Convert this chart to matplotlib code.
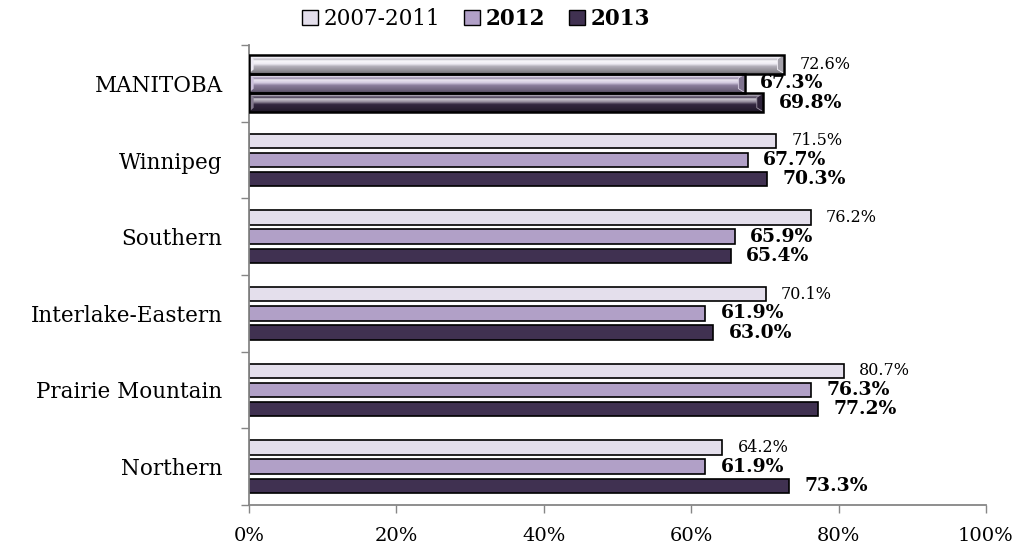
import numpy as np
import matplotlib
matplotlib.use("Agg")
import matplotlib.pyplot as plt
from matplotlib.patches import Patch, Rectangle, Polygon
from matplotlib.colors import to_rgb

plt.rcParams['font.family'] = ['DejaVu Serif']

regions = ["MANITOBA", "Winnipeg", "Southern", "Interlake-Eastern",
           "Prairie Mountain", "Northern"]
series_names = ["2007-2011", "2012", "2013"]
avg_2007_2011 = [72.6, 71.5, 76.2, 70.1, 80.7, 64.2]
val_2012 = [67.3, 67.7, 65.9, 61.9, 76.3, 61.9]
val_2013 = [69.8, 70.3, 65.4, 63.0, 77.2, 73.3]
x_ticks = [0, 20, 40, 60, 80, 100]

colors = ["#E4DFEC", "#B1A0C7", "#403151"]
series = [avg_2007_2011, val_2012, val_2013]

fig = plt.figure(figsize=(10.19, 5.46), dpi=100)
ax = fig.add_axes([249 / 1019, 1 - 505 / 546, 737 / 1019, 460 / 546])

bar_h = 0.19
total_h = 0.245
offsets = [-0.25, 0.0, 0.25]


def mix(c, other, t):
    c = np.array(to_rgb(c))
    o = np.array(to_rgb(other))
    return (1 - t) * c + t * o


def bevel_image(color, n=80):
    # vertical shading for the highlighted provincial total bars
    stops = [
        (0.00, mix(color, "white", 0.55)),
        (0.14, mix(color, "white", 0.55)),
        (0.22, mix(color, "black", 0.18)),
        (0.30, mix(color, "white", 0.75)),
        (0.46, mix(color, "white", 0.45)),
        (0.60, mix(color, "black", 0.22)),
        (0.85, mix(color, "black", 0.38)),
        (1.00, mix(color, "black", 0.55)),
    ]
    t = np.linspace(0, 1, n)
    pos = [s[0] for s in stops]
    img = np.zeros((n, 2, 3))
    for k in range(3):
        ch = np.interp(t, pos, [s[1][k] for s in stops])
        img[:, :, k] = ch[:, None]
    return img


for s_idx, (vals, col) in enumerate(zip(series, colors)):
    for i, v in enumerate(vals):
        y = i + offsets[s_idx]
        if i == 0:
            top, bot = y - total_h / 2, y + total_h / 2
            rect = Rectangle((0, top), v, total_h, facecolor="none",
                             edgecolor="black", linewidth=1.8, zorder=3)
            ax.add_patch(rect)
            im = ax.imshow(bevel_image(col), extent=(0, v, bot, top),
                           origin="upper", aspect="auto", interpolation="bilinear", zorder=2)
            im.set_clip_path(rect)
            # bevelled end faces
            inset = total_h * 0.22
            w = 0.9
            right = Polygon([(v - w, top + inset), (v, top), (v, bot), (v - w, bot - inset)],
                            closed=True, facecolor=mix(col, "black", 0.28),
                            edgecolor=mix(col, "white", 0.5), linewidth=0.6, zorder=2.5)
            left = Polygon([(0, top), (w * 0.7, top + inset), (w * 0.7, bot - inset), (0, bot)],
                           closed=True, facecolor=mix(col, "white", 0.35),
                           edgecolor="none", zorder=2.5)
            for p in (right, left):
                ax.add_patch(p)
                p.set_clip_path(rect)
        else:
            ax.barh(y, v, height=bar_h, color=col, edgecolor="black",
                    linewidth=1.2, zorder=2)
        weight = "normal" if s_idx == 0 else "bold"
        size = 11.5 if s_idx == 0 else 13.5
        ax.annotate(f"{v:.1f}%", xy=(v, y), xytext=(11, 0), textcoords="offset points",
                    ha="left", va="center", fontsize=size, fontweight=weight,
                    color="black", zorder=4)

ax.set_xlim(0, 100)
ax.set_ylim(5.5, -0.5)

ax.set_xticks(x_ticks)
ax.set_xticklabels([f"{t}%" for t in x_ticks], fontsize=14)
ax.set_yticks(np.arange(-0.5, 6.0, 1.0))
ax.set_yticklabels([])
ax.set_yticks(np.arange(len(regions)), minor=True)
ax.set_yticklabels(regions, minor=True, fontsize=15.5)

ax.tick_params(axis="y", which="major", direction="out", length=6, width=1, color="#868686")
ax.tick_params(axis="y", which="minor", length=0, pad=19)
ax.tick_params(axis="x", direction="out", length=6, width=1, color="#868686", pad=10)

for side in ["top", "right"]:
    ax.spines[side].set_visible(False)
for side in ["left", "bottom"]:
    ax.spines[side].set_color("#868686")
    ax.spines[side].set_linewidth(1.3)

handles = [Patch(facecolor=c, edgecolor="black", linewidth=1.0) for c in colors]
leg = fig.legend(handles, series_names, loc="center", ncol=3,
                 bbox_to_anchor=(476 / 1019, 1 - 19 / 546), frameon=False,
                 fontsize=15.5, handlelength=0.75, handleheight=0.75,
                 handletextpad=0.25, columnspacing=1.1, borderpad=0.2)
for txt in leg.get_texts()[1:]:
    txt.set_fontweight("bold")

fig.savefig("out.png", dpi=100)
